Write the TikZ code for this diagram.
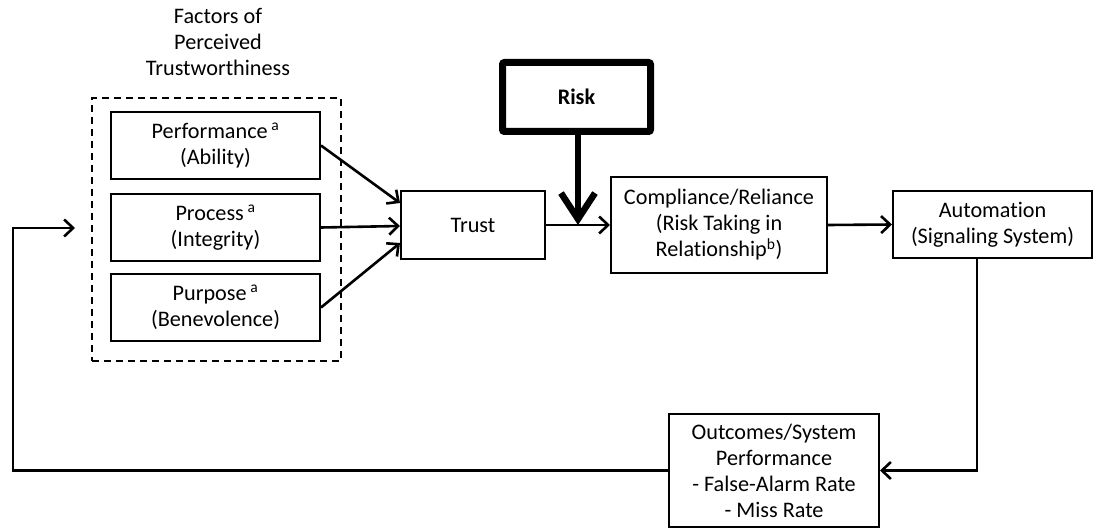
\documentclass[tikz,border=0pt]{standalone}
\usepackage{fontspec}
\setmainfont{Carlito}[Ligatures=NoCommon]
\usetikzlibrary{arrows.meta}
\begin{document}
\begin{tikzpicture}[x=1pt,y=-1pt,
  box/.style={draw, line width=2pt, align=center, inner sep=0pt,
    font=\fontsize{22.2}{26}\selectfont},
  plain/.style={align=center, inner sep=0pt, font=\fontsize{22.2}{26}\selectfont},
  arr/.style={line width=2.6pt, -{Straight Barb[length=9pt,width=17pt]}},
  bigarr/.style={line width=6.5pt, -{Straight Barb[length=26pt,width=34pt]}}]
\useasboundingbox (0,0) rectangle (1094,529);

% group of trustworthiness factors
\node[plain] (title) at (218,42) {Factors of\\Perceived\\Trustworthiness};
\node[draw, line width=2pt, dash pattern=on 7pt off 5pt,
  minimum width=249pt, minimum height=263pt] (factors) at (216.5,229.5) {};
\node[box, minimum width=209pt, minimum height=67pt] (perf) at (215.5,145.5)
  {Performance\,\textsuperscript{a}\\(Ability)};
\node[box, minimum width=209pt, minimum height=67pt] (proc) at (215.5,227.5)
  {Process\,\textsuperscript{a}\\(Integrity)};
\node[box, minimum width=209pt, minimum height=67pt] (purp) at (215.5,307.5)
  {Purpose\,\textsuperscript{a}\\(Benevolence)};

% main chain
\node[box, minimum width=144pt, minimum height=68pt] (trust) at (473,225) {Trust};
\node[box, line width=7pt, rounded corners=2pt, minimum width=148pt, minimum height=69pt,
  font=\fontsize{22.2}{26}\selectfont\bfseries] (risk) at (576.5,97) {Risk};
\node[box, minimum width=216pt, minimum height=96pt] (comp) at (719,225)
  {Compliance/Reliance\\(Risk Taking in\\Relationship\textsuperscript{b})};
\node[box, minimum width=199pt, minimum height=67pt] (auto) at (992.5,224.5)
  {Automation\\(Signaling System)};
\node[box, minimum width=210pt, minimum height=113pt] (out) at (774,470.5)
  {Outcomes/System\\Performance\\- False-Alarm Rate\\- Miss Rate};

% connectors
\draw[arr] (perf.east) -- ([yshift=22pt]trust.west);
\draw[arr] (proc.east) -- ([yshift=-1pt]trust.west);
\draw[arr] (purp.east) -- ([yshift=-18pt]trust.west);
\draw[arr] (trust.east) -- (comp.west);
\coordinate (hit) at ([xshift=1.5pt]risk.south |- trust.east);
\draw[bigarr] ([xshift=1.5pt]risk.south) -- (hit);
\draw[arr] (comp.east) -- (auto.west);
\draw[arr] ([xshift=-15.5pt]auto.south) |- (out.east);
\coordinate (loopin) at (75,228);
\coordinate (loopcorner) at (13,228);
\draw[arr] (out.west) -| (loopcorner) -- (loopin);
\end{tikzpicture}
\end{document}
